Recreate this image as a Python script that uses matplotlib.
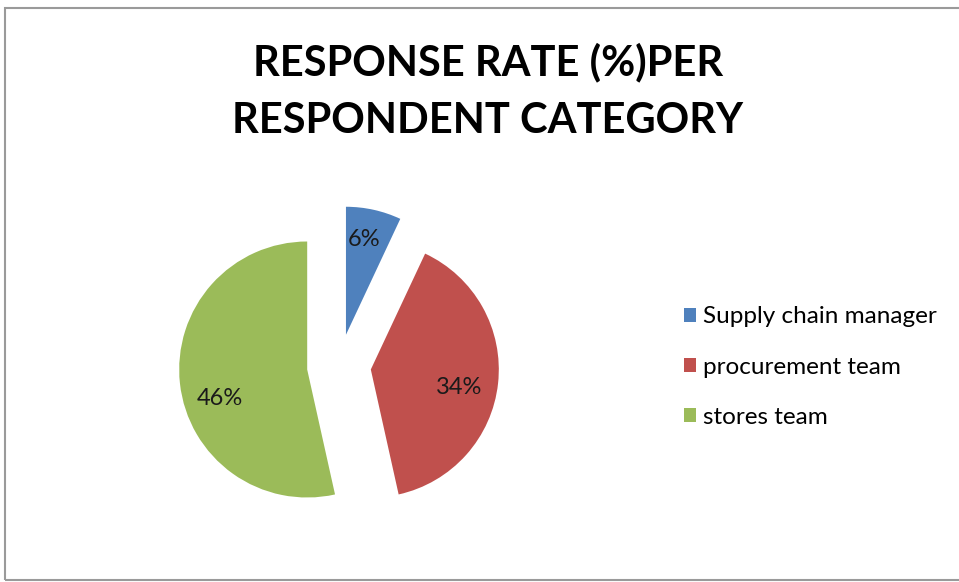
import matplotlib
matplotlib.use("Agg")
import matplotlib.pyplot as plt
from matplotlib.patches import Rectangle
import numpy as np

categories = ["Supply chain manager", "procurement team", "stores team"]
values = [6, 34, 46]
colors = ["#4F81BD", "#C0504D", "#9BBB59"]
title = "RESPONSE RATE (%)PER\nRESPONDENT CATEGORY"

W, H = 959, 582
fig = plt.figure(figsize=(W / 100, H / 100), dpi=100)
plt.rcParams['font.family'] = ['Lato', 'DejaVu Sans']

# border of the chart area
fig.patches.append(Rectangle((5 / W, 1 - 580 / H), 1.0, (580 - 8) / H,
                             transform=fig.transFigure, fill=False,
                             edgecolor="#9a9a9a", linewidth=1.5))

# pie axes: center (339,366) px, radius 128 px
R = 128
cx, cy = 339, 366
half = 1.5
ax = fig.add_axes([(cx - half * R) / W, 1 - (cy + half * R) / H,
                   2 * half * R / W, 2 * half * R / H])

wedges, _ = ax.pie(values, colors=colors, startangle=90, counterclock=False,
                   explode=[0.25] * len(values), radius=1.0,
                   wedgeprops=dict(linewidth=0))
ax.set_xlim(-half, half)
ax.set_ylim(-half, half)
ax.set_aspect("equal")
ax.axis("off")

label_r = [0.76, 0.70, 0.72]
label_shift = [2, -5, 12]
for w, v, lr, sh in zip(wedges, values, label_r, label_shift):
    ang = np.deg2rad((w.theta1 + w.theta2) / 2 + sh)
    x0, y0 = w.center
    ax.text(x0 + lr * np.cos(ang), y0 + lr * np.sin(ang), f"{v}%",
            ha="center", va="center", fontsize=17, color="#1a1a1a")

fig.text(488 / W, 1 - 91 / H, title, ha="center", va="center",
         fontsize=30, fontweight="bold", linespacing=1.65)

leg = fig.legend(wedges, categories, loc="center left",
                 bbox_to_anchor=(662 / W, 1 - 367 / H), frameon=False,
                 fontsize=17.5, handlelength=0.5, handleheight=0.5,
                 handletextpad=0.3, labelspacing=1.2)

fig.savefig("out.png", dpi=100)
